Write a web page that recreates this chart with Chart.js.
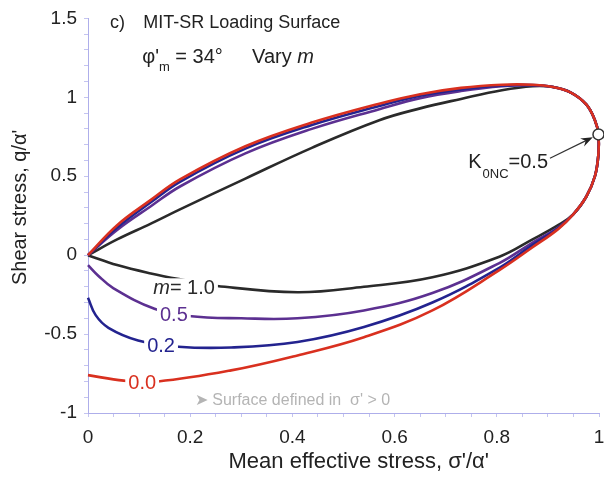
<!DOCTYPE html>
<html>
<head>
<meta charset="utf-8">
<script src="https://cdn.jsdelivr.net/npm/chart.js@4.4.1/dist/chart.umd.min.js"></script>
<style>
  html, body { margin: 0; padding: 0; background: #fff; }
  #grafico { display: block; }
</style>
</head>
<body>
<canvas id="grafico" width="604" height="477"></canvas>
<script>
// curvas de la superficie de carga, [sigma'/alpha', q/alpha']
const curvaM00 = [[0,0],[0.057,0.19],[0.123,0.35],[0.18,0.48],[0.308,0.69],[0.438,0.84],[0.57,0.96],[0.65,1.02],[0.73,1.06],[0.81,1.08],[0.87,1.08],[0.91,1.065],
  [0.945,1.03],[0.975,0.955],[0.992,0.855],[0.999,0.765],[0.999,0.645],[0.992,0.5],[0.975,0.37],[0.95,0.26],[0.92,0.165],
  [0.87,0.05],[0.805,-0.095],[0.674,-0.35],[0.54,-0.52],[0.41,-0.635],[0.28,-0.73],[0.137,-0.80],[0.07,-0.795],[0,-0.76]];
const curvaM02 = [[0,0],[0.057,0.175],[0.123,0.335],[0.18,0.465],[0.308,0.675],[0.438,0.825],[0.57,0.945],[0.65,1.01],[0.73,1.05],[0.81,1.075],[0.87,1.078],[0.91,1.065],
  [0.945,1.03],[0.975,0.955],[0.992,0.855],[0.999,0.765],[0.999,0.645],[0.992,0.5],[0.975,0.37],[0.95,0.26],[0.92,0.17],
  [0.87,0.065],[0.805,-0.08],[0.674,-0.30],[0.54,-0.455],[0.41,-0.55],[0.28,-0.585],[0.177,-0.58],[0.098,-0.54],[0.04,-0.46],[0.015,-0.38],[0,-0.27]];
const curvaM05 = [[0,0],[0.057,0.16],[0.123,0.31],[0.18,0.435],[0.308,0.645],[0.438,0.80],[0.57,0.925],[0.65,0.995],[0.73,1.04],[0.81,1.07],[0.87,1.076],[0.91,1.065],
  [0.945,1.03],[0.975,0.955],[0.992,0.855],[0.999,0.765],[0.999,0.645],[0.992,0.5],[0.975,0.37],[0.95,0.26],[0.92,0.175],
  [0.87,0.08],[0.805,-0.05],[0.674,-0.24],[0.54,-0.35],[0.41,-0.40],[0.3,-0.40],[0.197,-0.385],[0.13,-0.34],[0.05,-0.21],[0.02,-0.13],[0,-0.063]];
const curvaM10 = [[0,0],[0.057,0.10],[0.123,0.20],[0.18,0.29],[0.308,0.485],[0.438,0.68],[0.57,0.855],[0.65,0.93],[0.73,0.99],[0.81,1.045],[0.87,1.07],[0.91,1.065],
  [0.945,1.03],[0.975,0.955],[0.992,0.855],[0.999,0.765],[0.999,0.645],[0.992,0.5],[0.975,0.37],[0.95,0.26],[0.92,0.19],
  [0.87,0.10],[0.805,-0.01],[0.674,-0.14],[0.54,-0.20],[0.41,-0.235],[0.253,-0.195],[0.188,-0.158],[0.123,-0.116],[0.057,-0.063],[0,0]];
const puntoK0NC = [[0.999, 0.765]];

const valoresM = ['0.0', '0.2', '0.5', '1.0'];
const coloresM = ['#d9301f', '#23238f', '#5c3091', '#2a2a2a'];
// posicion de las etiquetas de m sobre cada curva
const etiquetaX = [0.106, 0.143, 0.168, 0.188];
const etiquetaY = [-0.815, -0.58, -0.38, -0.21];

const FUENTE = '"Liberation Sans", Arial, sans-serif';

function aPuntos(curva) {
  return curva.map(p => ({ x: p[0], y: p[1] }));
}

const curvas = [curvaM00, curvaM02, curvaM05, curvaM10];
let datasets = [{
  data: aPuntos(puntoK0NC),
  showLine: false,
  pointRadius: 5.5,
  pointBackgroundColor: '#fff',
  pointBorderColor: '#333',
  pointBorderWidth: 1.5,
  clip: false
}];
curvas.forEach((c, i) => {
  datasets.push({
    label: 'm=' + valoresM[i],
    data: aPuntos(c),
    showLine: true,
    borderColor: coloresM[i],
    borderWidth: 2.6,
    pointRadius: 0,
    tension: 0.4,
    fill: false,
    clip: false
  });
});

function etiquetaTick(v, paso) {
  let r = Math.round(v * 100) / 100;
  if (Math.abs(r / paso - Math.round(r / paso)) > 1e-6) return '';
  return String(Math.round(r * 10) / 10);
}

const anotaciones = {
  id: 'anotaciones',
  afterDatasetsDraw(chart) {
    const ctx = chart.ctx;
    const sx = chart.scales.x, sy = chart.scales.y;
    const px = v => sx.getPixelForValue(v);
    const py = v => sy.getPixelForValue(v);
    ctx.save();
    ctx.textBaseline = 'middle';

    // etiquetas de m, con fondo blanco que corta la linea
    valoresM.forEach((m, i) => {
      const partes = i === 3 ? [['m', 'italic '], ['= ' + m, '']] : [[m, '']];
      let ancho = 0;
      partes.forEach(p => { ctx.font = p[1] + '20px ' + FUENTE; ancho += ctx.measureText(p[0]).width; });
      const cx = px(etiquetaX[i]), cy = py(etiquetaY[i]);
      ctx.fillStyle = '#fff';
      ctx.fillRect(cx - ancho / 2 - 3, cy - 10, ancho + 6, 20);
      let x0 = cx - ancho / 2;
      ctx.fillStyle = coloresM[i];
      ctx.textAlign = 'left';
      partes.forEach(p => {
        ctx.font = p[1] + '20px ' + FUENTE;
        ctx.fillText(p[0], x0, cy);
        x0 += ctx.measureText(p[0]).width;
      });
    });

    ctx.textBaseline = 'alphabetic';
    ctx.textAlign = 'left';
    ctx.fillStyle = '#222';

    // titulo
    ctx.font = '18px ' + FUENTE;
    ctx.fillText('c)', px(0.043), py(1.437));
    ctx.fillText('MIT-SR Loading Surface', px(0.108), py(1.437));
    ctx.font = '20px ' + FUENTE;
    let x0 = px(0.106), yb = py(1.22);
    ctx.fillText('\u03c6\'', x0, yb);
    x0 += ctx.measureText('\u03c6\'').width;
    ctx.font = '13px ' + FUENTE;
    ctx.fillText('m', x0, yb + 8);
    x0 += ctx.measureText('m').width;
    ctx.font = '20px ' + FUENTE;
    ctx.fillText(' = 34\u00b0', x0, yb);
    x0 = px(0.321);
    ctx.fillText('Vary ', x0, yb);
    x0 += ctx.measureText('Vary ').width;
    ctx.font = 'italic 20px ' + FUENTE;
    ctx.fillText('m', x0, yb);

    // etiqueta K0NC
    ctx.font = '20px ' + FUENTE;
    x0 = px(0.744); yb = py(0.55);
    ctx.fillText('K', x0, yb);
    x0 += ctx.measureText('K').width + 1;
    ctx.font = '13px ' + FUENTE;
    ctx.fillText('0NC', x0, yb + 10);
    x0 += ctx.measureText('0NC').width;
    ctx.font = '20px ' + FUENTE;
    ctx.fillText('=0.5', x0, yb);

    // flecha hacia el punto K0NC
    const ax = px(0.904), ay = py(0.614), bx = px(0.988), by = py(0.747);
    const ang = Math.atan2(by - ay, bx - ax);
    ctx.strokeStyle = '#333';
    ctx.lineWidth = 1.2;
    ctx.beginPath();
    ctx.moveTo(ax, ay);
    ctx.lineTo(bx - 6 * Math.cos(ang), by - 6 * Math.sin(ang));
    ctx.stroke();
    ctx.fillStyle = '#222';
    ctx.beginPath();
    ctx.moveTo(bx, by);
    ctx.lineTo(bx - 12 * Math.cos(ang) + 4.5 * Math.sin(ang), by - 12 * Math.sin(ang) - 4.5 * Math.cos(ang));
    ctx.lineTo(bx - 8 * Math.cos(ang), by - 8 * Math.sin(ang));
    ctx.lineTo(bx - 12 * Math.cos(ang) - 4.5 * Math.sin(ang), by - 12 * Math.sin(ang) + 4.5 * Math.cos(ang));
    ctx.closePath();
    ctx.fill();

    // nota
    ctx.fillStyle = '#b4b4b4';
    ctx.font = '16px ' + FUENTE;
    ctx.fillText('\u27a4 Surface defined in  \u03c3\' > 0', px(0.209), py(-0.95));

    ctx.restore();
  }
};

const ctx = document.getElementById('grafico');
const grafico = new Chart(ctx, {
  type: 'scatter',
  data: { datasets: datasets },
  options: {
    responsive: false,
    animation: false,
    devicePixelRatio: 1,
    layout: { autoPadding: false, padding: { top: 18, right: 5, left: 0, bottom: 0 } },
    plugins: { legend: { display: false }, tooltip: { enabled: false } },
    scales: {
      x: {
        type: 'linear', min: 0, max: 1,
        afterFit: s => { s.height = 64; s.paddingLeft = 0; s.paddingRight = 0; },
        ticks: {
          stepSize: 0.05, autoSkip: false, maxRotation: 0, padding: 9,
          color: '#222', font: { family: FUENTE, size: 19 },
          callback: v => etiquetaTick(v, 0.2)
        },
        grid: { drawOnChartArea: false, tickLength: 4, color: '#c4c4f0' },
        border: { color: '#aeaeea', dash: [2, 2] },
        title: { display: true, text: '     Mean effective stress, \u03c3\'/\u03b1\'', color: '#222', font: { family: FUENTE, size: 22 }, padding: { top: 2, bottom: 2 } }
      },
      y: {
        type: 'linear', min: -1, max: 1.5,
        afterFit: s => { s.width = 88; },
        ticks: {
          stepSize: 0.1, autoSkip: false, padding: 7,
          color: '#222', font: { family: FUENTE, size: 19 },
          callback: v => etiquetaTick(v, 0.5)
        },
        grid: { drawOnChartArea: false, tickLength: 4, color: '#c4c4f0' },
        border: { color: '#aeaeea', dash: [2, 2] },
        title: { display: true, text: '   Shear stress, q/\u03b1\'', color: '#222', font: { family: FUENTE, size: 20 }, padding: { top: 8, bottom: 2 } }
      }
    }
  },
  plugins: [anotaciones]
});
</script>
</body>
</html>
